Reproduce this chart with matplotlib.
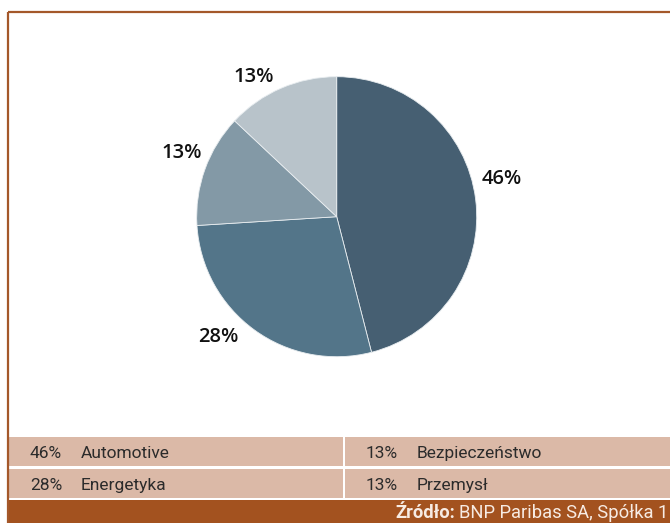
import numpy as np
import matplotlib
matplotlib.use("Agg")
import matplotlib.pyplot as plt
from matplotlib.patches import Rectangle

# ---- data ----
categories = ["Automotive", "Energetyka", "Bezpieczeństwo", "Przemysł"]
values = [46, 28, 13, 13]
slice_colors = ["#465f72", "#537589", "#8399a6", "#b8c3ca"]
source_label = "Źródło:"
source_text = "BNP Paribas SA, Spółka 1"

W, H = 670, 523
fig = plt.figure(figsize=(W / 100, H / 100), dpi=100)
fig.patch.set_facecolor("white")

# background axes in pixel coordinates for frame / legend table / footer
bg = fig.add_axes([0, 0, 1, 1])
bg.set_xlim(0, W)
bg.set_ylim(H, 0)
bg.axis("off")

brown = "#a4582a"
row_fill = "#dbb9a7"
footer_fill = "#a3521f"

# frame lines
bg.plot([7.5, W], [12, 12], color=brown, lw=1.6, solid_capstyle="butt")
bg.plot([7.5, 7.5], [12, H], color=brown, lw=1.6, solid_capstyle="butt")

# legend table (2 rows x 2 columns)
row_tops = [437, 469]
row_h = 28.5
col_lefts = [8.5, 344.5]
col_rights = [342.5, W]
leg_font = ["Roboto", "DejaVu Sans"]
for i, (cat, val) in enumerate(zip(categories, values)):
    col = i // 2
    row = i % 2
    x0, x1 = col_lefts[col], col_rights[col]
    y0 = row_tops[row]
    bg.add_patch(Rectangle((x0, y0), x1 - x0, row_h, facecolor=row_fill,
                           edgecolor="none"))
    yc = y0 + row_h / 2 + 2
    bg.text(x0 + 21.5, yc, f"{val}%", fontsize=12.5, family=leg_font,
            fontweight="normal", color="#2b2b2b", va="center", ha="left")
    bg.text(x0 + 72, yc, cat, fontsize=12.5, family=leg_font,
            fontweight="normal", color="#2b2b2b", va="center", ha="left")

# footer
bg.add_patch(Rectangle((8.5, 500), W - 8.5, H - 500, facecolor=footer_fill,
                       edgecolor="none"))
t2 = bg.text(668, 513, source_text, fontsize=13.2, family=leg_font,
             fontweight="normal", color="#f7ebe3", va="center", ha="right")
fig.canvas.draw()
bb = t2.get_window_extent()
x_left = bb.x0  # display px, y up; bg x is same as px
bg.text(x_left - 4, 513, source_label, fontsize=13.2, family=leg_font,
        fontweight="bold", color="#f7ebe3", va="center", ha="right")

# pie
cx, cy, r = 336.7, 216.7, 140
ax = fig.add_axes([(cx - r) / W, (H - cy - r) / H, 2 * r / W, 2 * r / H])
wedges, _ = ax.pie(values, colors=slice_colors, startangle=90,
                   counterclock=False, radius=1,
                   wedgeprops=dict(edgecolor="#e8edf0", linewidth=0.6))
ax.set_xlim(-1, 1)
ax.set_ylim(-1, 1)
ax.set_aspect("equal")
ax.axis("off")

nudges = [6, -9, -3, 7]
dists = [1.21, 1.2, 1.2, 1.17]
for w, v, nd, d in zip(wedges, values, nudges, dists):
    ang = np.deg2rad((w.theta1 + w.theta2) / 2 + nd)
    ax.text(d * np.cos(ang), d * np.sin(ang) - 0.01, f"{v}%", fontsize=14.5,
            family=["Open Sans", "DejaVu Sans"], fontweight="semibold",
            color="#111111", ha="center", va="center", clip_on=False)

fig.savefig("out.png", dpi=100, facecolor="white")
